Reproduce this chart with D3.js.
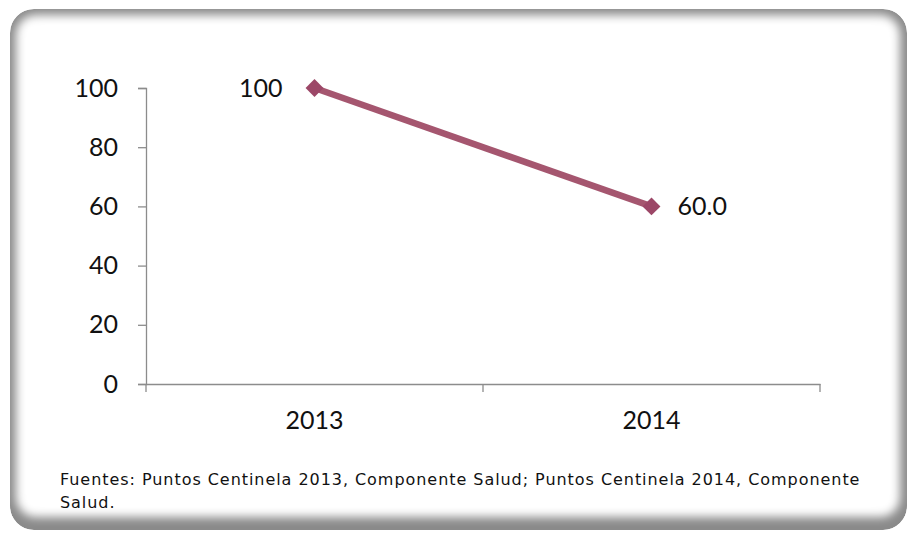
<!DOCTYPE html>
<html><head><meta charset="utf-8">
<script src="https://cdn.jsdelivr.net/npm/d3@7"></script>
<style>body{margin:0;background:#fff}svg{display:block}text{font-family:"Lato","Open Sans",sans-serif;fill:#111}</style>
</head><body>
<script>
const categories = ["2013", "2014"];
const values = [100, 60.0];
const valueLabels = ["100", "60.0"];
const yTicks = [0, 20, 40, 60, 80, 100];
const footnote = ["Fuentes: Puntos Centinela 2013, Componente Salud; Puntos Centinela 2014, Componente", "Salud."];

const W = 908, H = 534;
const NUMFONT = '"Lato","Open Sans",sans-serif';
const svg = d3.select("body").append("svg").attr("width", W).attr("height", H);
const defs = svg.append("defs");
defs.append("filter").attr("id","blur").attr("x","-10%").attr("y","-10%").attr("width","120%").attr("height","120%")
  .append("feGaussianBlur").attr("stdDeviation", 5);
defs.append("clipPath").attr("id","frameClip").append("rect")
  .attr("x",10).attr("y",9).attr("width",897).attr("height",521).attr("rx",24);

const frame = svg.append("g").attr("clip-path","url(#frameClip)");
frame.append("rect").attr("x",10).attr("y",9).attr("width",897).attr("height",521).attr("rx",24).attr("fill","#8a8a8a");
frame.append("rect").attr("x",16).attr("y",15).attr("width",884).attr("height",502).attr("rx",20)
  .attr("fill","#fff").attr("filter","url(#blur)");

const x = d3.scaleBand().domain(categories).range([146, 820]);
const y = d3.scaleLinear().domain([0, 100]).range([384, 88]);

// Axes
const yAxis = d3.axisLeft(y).tickValues(yTicks).tickSize(8).tickPadding(20).tickFormat(d3.format("d"));
const gy = svg.append("g").attr("transform","translate(146,0)").call(yAxis);
gy.select(".domain").attr("stroke","#8c8c8c").attr("stroke-width",1.3);
gy.selectAll(".tick line").attr("stroke","#8c8c8c").attr("stroke-width",1.3);
gy.selectAll(".tick text").attr("font-size",25).attr("fill","#1a1a1a").style("font-family",NUMFONT);

const xAxis = d3.axisBottom(x).tickSize(0).tickPadding(27);
const gx = svg.append("g").attr("transform","translate(0,384)").call(xAxis);
gx.select(".domain").attr("stroke","#8c8c8c").attr("stroke-width",1.3);
gx.selectAll(".tick text").attr("font-size",25).attr("fill","#1a1a1a").style("font-family",NUMFONT);
// category boundary ticks
const bounds = [x.range()[0]].concat(categories.map(c => x(c) + x.bandwidth()));
svg.append("g").selectAll("line").data(bounds).join("line")
  .attr("x1", d => d).attr("x2", d => d).attr("y1", 384).attr("y2", 392)
  .attr("stroke","#8c8c8c").attr("stroke-width",1.3);

// Line
const cx = c => x(c) + x.bandwidth()/2;
const line = d3.line().x((d,i) => cx(categories[i])).y(d => y(d));
svg.append("path").datum(values).attr("d", line).attr("fill","none")
  .attr("stroke","#A5566F").attr("stroke-width",6.5).attr("stroke-linecap","butt");
svg.append("g").selectAll("path").data(values).join("path")
  .attr("d", d3.symbol().type(d3.symbolSquare).size(160))
  .attr("transform", (d,i) => `translate(${cx(categories[i])},${y(d)}) rotate(45)`)
  .attr("fill","#9C4767");

// Data labels
svg.append("g").selectAll("text").data(values).join("text")
  .attr("x", (d,i) => i === 0 ? cx(categories[i]) - 32 : cx(categories[i]) + 26)
  .attr("y", d => y(d))
  .attr("dy","0.36em")
  .attr("text-anchor", (d,i) => i === 0 ? "end" : "start")
  .attr("font-size",25).attr("fill","#1a1a1a")
  .style("font-family",NUMFONT)
  .text((d,i) => valueLabels[i]);

// Footnote
svg.append("g").selectAll("text").data(footnote).join("text")
  .attr("x",60).attr("y",(d,i) => 485 + i*23)
  .attr("font-size",16).attr("letter-spacing","0.95px").attr("fill","#1a1a1a")
  .style("font-family",'"DejaVu Sans",sans-serif').text(d => d);
</script>
</body></html>
